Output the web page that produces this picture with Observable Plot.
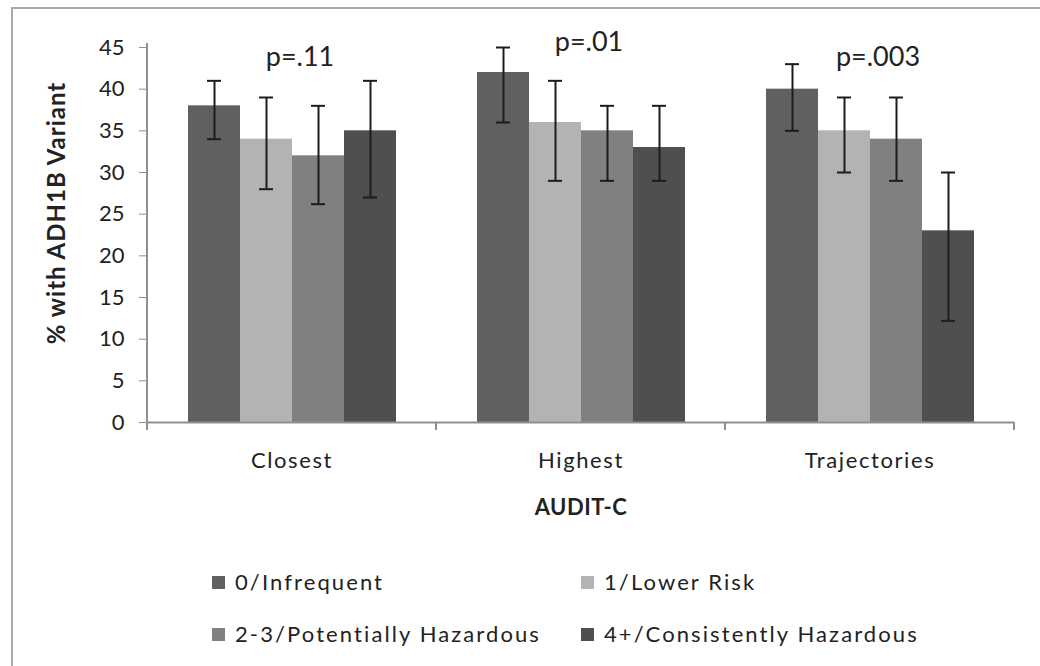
<!DOCTYPE html>
<html><head><meta charset="utf-8">
<script src="https://cdn.jsdelivr.net/npm/d3@7"></script>
<script src="https://cdn.jsdelivr.net/npm/@observablehq/plot@0.6"></script>
<style>
html,body{margin:0;padding:0;background:#fff;width:1040px;height:666px;overflow:hidden;font-family:Lato,"Open Sans",sans-serif;}
#frame{position:absolute;left:11px;top:7px;width:1100px;height:720px;border:2px solid #a9a9a9;box-sizing:border-box;}
#chart{position:absolute;left:0;top:0;}
#legend{position:absolute;left:0;top:530px;width:1040px;height:136px;}
.item{position:absolute;display:flex;align-items:center;font-size:22px;color:#222;letter-spacing:2.1px;white-space:nowrap;line-height:22px;}
.sw{width:13px;height:13px;margin-right:10px;flex:none;}
g[aria-label="y-axis label"], g[aria-label="y-axis label"] text{font-weight:bold;font-size:24px;letter-spacing:1px;}
g[aria-label="fx-axis label"], g[aria-label="fx-axis label"] text{font-weight:bold;font-size:22px;letter-spacing:0.5px;}
g[aria-label="fx-axis tick label"] text{letter-spacing:1.6px;}
</style></head><body>
<div id="frame"></div><div id="chart"></div><div id="legend"></div>
<script>
const categories = ["Closest", "Highest", "Trajectories"];
const series = ["0/Infrequent", "1/Lower Risk", "2-3/Potentially Hazardous", "4+/Consistently Hazardous"];
const closestValues = [38, 34, 32, 35];
const closestLow = [34, 28, 26.2, 27];
const closestHigh = [41, 39, 38, 41];
const highestValues = [42, 36, 35, 33];
const highestLow = [36, 29, 29, 29];
const highestHigh = [45, 41, 38, 38];
const trajectoriesValues = [40, 35, 34, 23];
const trajectoriesLow = [35, 30, 29, 12.2];
const trajectoriesHigh = [43, 39, 39, 30];
const pLabels = ["p=.11", "p=.01", "p=.003"];
const pLabelY = [43.8, 45.6, 43.8];
const yTicks = [0, 5, 10, 15, 20, 25, 30, 35, 40, 45];
const seriesColors = ["#606060", "#b3b3b3", "#808080", "#4f4f4f"];

const valueSets = [closestValues, highestValues, trajectoriesValues];
const lowSets = [closestLow, highestLow, trajectoriesLow];
const highSets = [closestHigh, highestHigh, trajectoriesHigh];
const table = categories.flatMap((c, i) => series.map((s, j) => ({
  category: c, series: s, value: valueSets[i][j], low: lowSets[i][j], high: highSets[i][j]
})));
const pTable = categories.map((c, i) => ({category: c, label: pLabels[i], y: pLabelY[i]}));

const errStroke = "#1c1c1c";
const axisGray = "#8f8f8f";

const chart = Plot.plot({
  width: 1040, height: 530,
  marginLeft: 146, marginRight: 25, marginTop: 47, marginBottom: 108,
  style: {fontFamily: "Lato, 'Open Sans', sans-serif", background: "transparent", color: "#222", overflow: "visible"},
  fx: {domain: categories, padding: 0, label: null},
  x: {domain: series, paddingInner: 0, paddingOuter: 0.745, axis: null},
  y: {domain: [0, 45], axis: null},
  color: {domain: series, range: seriesColors},
  marks: [
    Plot.barY(table, {fx: "category", x: "series", y: "value", fill: "series"}),
    Plot.ruleX(table, {fx: "category", x: "series", y1: "low", y2: "high", stroke: errStroke, strokeWidth: 2}),
    Plot.tickY(table, {fx: "category", x: "series", y: "low", stroke: errStroke, strokeWidth: 2, insetLeft: 19, insetRight: 19}),
    Plot.tickY(table, {fx: "category", x: "series", y: "high", stroke: errStroke, strokeWidth: 2, insetLeft: 19, insetRight: 19}),
    Plot.ruleY([0], {stroke: axisGray, strokeWidth: 2}),
    Plot.text(pTable, {fx: "category", y: "y", text: "label", dx: 8, fontSize: 27, fill: "#222"}),
    Plot.axisY({ticks: yTicks, tickSize: 8, tickPadding: 15, fontSize: 22, stroke: axisGray, fill: "#222",
      label: "% with ADH1B Variant", labelAnchor: "center", labelArrow: "none", labelOffset: 100}),
    Plot.axisFx({anchor: "bottom", tickSize: 0, tickPadding: 30, fontSize: 22, fill: "#222",
      label: "AUDIT-C", labelAnchor: "center", labelArrow: "none", labelOffset: 92})
  ]
});
document.getElementById("chart").appendChild(chart);

// axis line and category boundary ticks from the plot's own scales
const fx = chart.scale("fx"), y = chart.scale("y");
const svg = d3.select(chart.tagName.toLowerCase() === "svg" ? chart : chart.querySelector("svg"));
const x0 = fx.apply(categories[0]);
const bounds = categories.map(c => fx.apply(c)).concat([fx.apply(categories[categories.length - 1]) + fx.bandwidth]);
const g = svg.append("g").attr("stroke", axisGray).attr("stroke-width", 2);
g.append("line").attr("x1", x0).attr("x2", x0).attr("y1", y.apply(45) - 4).attr("y2", y.apply(0) + 8);
bounds.forEach(b => g.append("line").attr("x1", b).attr("x2", b).attr("y1", y.apply(0)).attr("y2", y.apply(0) + 8));
// the y-axis title sits a little above the frame's middle
svg.selectAll('g[aria-label="y-axis label"] text').attr("dx", 22);

// legend
const legend = document.getElementById("legend");
series.forEach((s, j) => {
  const item = document.createElement("div");
  item.className = "item";
  item.style.left = (212 + (j % 2) * 369) + "px";
  item.style.top = (41 + Math.floor(j / 2) * 52) + "px";
  const sw = document.createElement("span");
  sw.className = "sw";
  sw.style.background = seriesColors[j];
  const t = document.createElement("span");
  t.textContent = s;
  item.appendChild(sw); item.appendChild(t);
  legend.appendChild(item);
});
</script>
</body></html>
